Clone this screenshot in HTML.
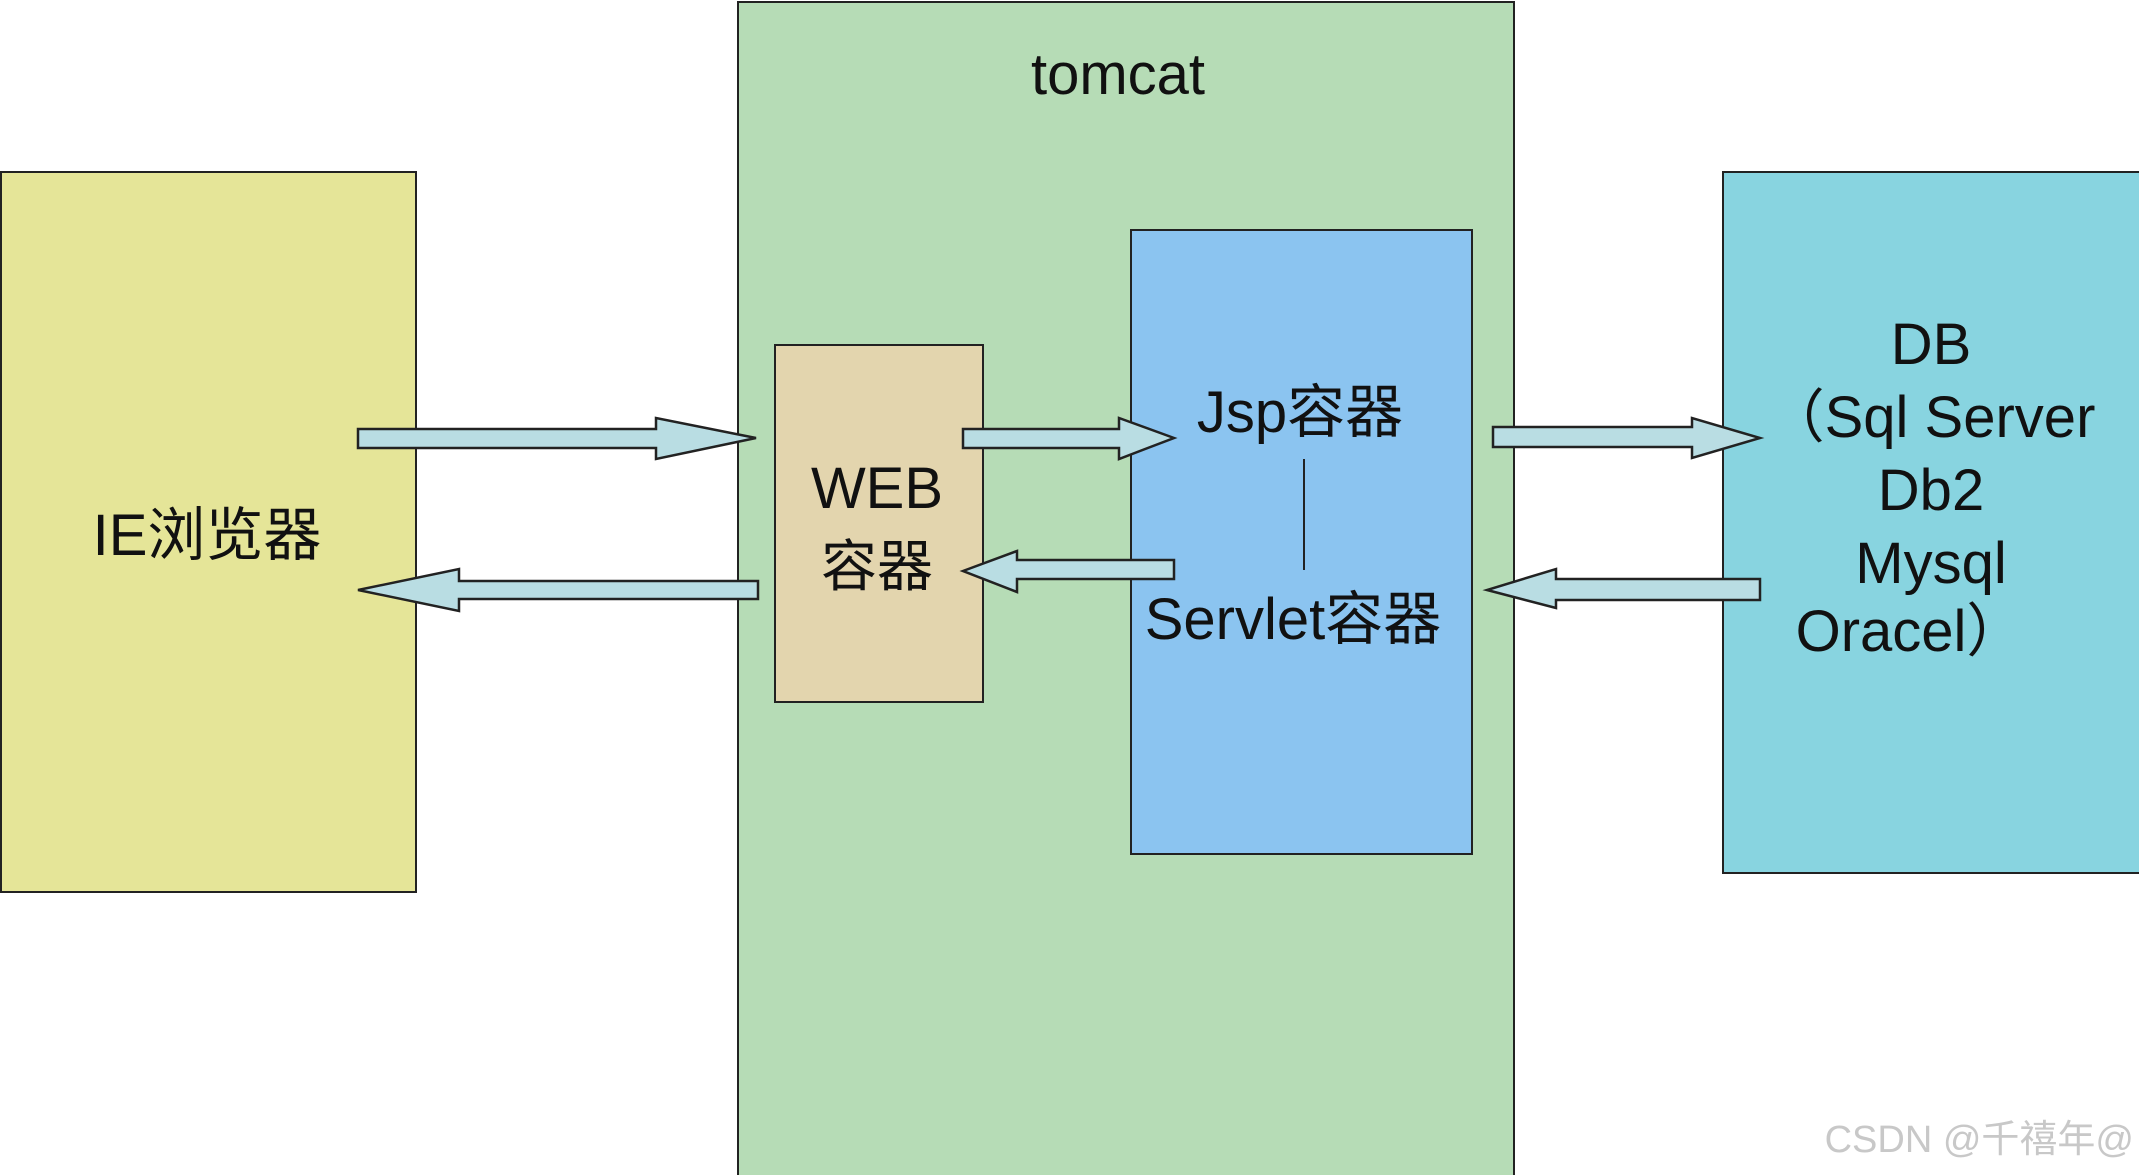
<!DOCTYPE html>
<html><head><meta charset="utf-8"><style>
html,body{margin:0;padding:0;background:#fff;}
svg{display:block;}
text{font-family:"Liberation Sans","Noto Sans CJK SC",sans-serif;fill:#111;}
</style></head><body>
<svg width="2139" height="1175" viewBox="0 0 2139 1175" xmlns="http://www.w3.org/2000/svg">
<rect x="0" y="0" width="2139" height="1175" fill="#fff"/>
<!-- IE box -->
<rect x="1" y="172" width="415" height="720" fill="#e5e598" stroke="#222" stroke-width="2"/>
<!-- tomcat -->
<rect x="738" y="2" width="776" height="1180" fill="#b6dcb6" stroke="#222" stroke-width="2"/>
<!-- WEB -->
<rect x="775" y="345" width="208" height="357" fill="#e3d5ae" stroke="#222" stroke-width="2"/>
<!-- blue -->
<rect x="1131" y="230" width="341" height="624" fill="#8bc4f0" stroke="#222" stroke-width="2"/>
<!-- DB -->
<rect x="1723" y="172" width="420" height="701" fill="#88d4e0" stroke="#222" stroke-width="2"/>

<g fill="#b9dde3" stroke="#222" stroke-width="2.5" stroke-linejoin="miter">
<!-- IE -> WEB -->
<polygon points="358,429 656,429 656,418 756,438 656,459 656,448 358,448"/>
<!-- WEB -> IE -->
<polygon points="758,581 459,581 459,569 358,590 459,611 459,599 758,599"/>
<!-- WEB -> Jsp -->
<polygon points="963,429 1119,429 1119,418 1174,438 1119,459 1119,448 963,448"/>
<!-- Servlet -> WEB -->
<polygon points="1174,560 1017,560 1017,551 963,571 1017,592 1017,579 1174,579"/>
<!-- tomcat -> DB -->
<polygon points="1493,427 1692,427 1692,418 1760,438 1692,458 1692,447 1493,447"/>
<!-- DB -> tomcat -->
<polygon points="1760,579 1556,579 1556,569 1487,590 1556,608 1556,600 1760,600"/>
</g>
<line x1="1304" y1="459" x2="1304" y2="570" stroke="#222" stroke-width="2"/>

<text x="1118" y="94" font-size="58" text-anchor="middle">tomcat</text>
<text x="207" y="555" font-size="58" text-anchor="middle">IE浏览器</text>
<text x="877" y="508" font-size="58" text-anchor="middle">WEB</text>
<text x="877" y="586" font-size="56" text-anchor="middle">容器</text>
<text x="1300" y="432" font-size="58" text-anchor="middle">Jsp容器</text>
<text x="1293" y="639" font-size="58" text-anchor="middle">Servlet容器</text>
<text x="1931" y="364" font-size="58" text-anchor="middle">DB</text>
<text x="1931" y="437" font-size="58" text-anchor="middle">（Sql Server</text>
<text x="1931" y="510" font-size="58" text-anchor="middle">Db2</text>
<text x="1931" y="583" font-size="58" text-anchor="middle">Mysql</text>
<text x="1910" y="651" font-size="58" text-anchor="middle">Oracel）</text>
<text x="2134" y="1152" font-size="38" text-anchor="end" style="fill:#c8c8c8">CSDN @千禧年@</text>
</svg>
</body></html>
